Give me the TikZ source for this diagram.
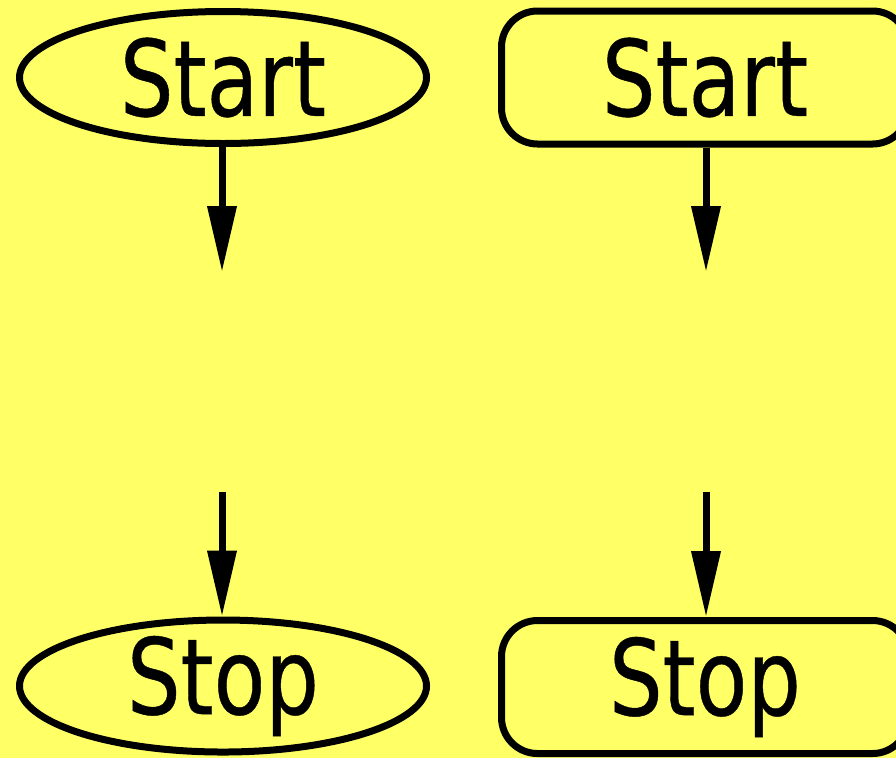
\documentclass[tikz,border=0pt]{standalone}
\usepackage{fontspec}
\newfontfamily\flowfont[FakeStretch=0.8,FakeBold=0.4]{DejaVu Sans}
\usetikzlibrary{shapes.geometric}
\usetikzlibrary{arrows.meta}
\definecolor{chartyellow}{HTML}{FFFF66}
\tikzset{
  terminal/.style={ellipse, draw=black, line width=0.07cm, fill=chartyellow,
    minimum width=4.07cm, minimum height=1.32cm, inner xsep=0pt, inner ysep=-0.12cm,
    font=\flowfont\fontsize{30}{33}\selectfont},
  terminalbox/.style={rectangle, rounded corners=0.36cm, draw=black, line width=0.07cm,
    fill=chartyellow, minimum width=4.07cm, minimum height=1.33cm, inner sep=0pt,
    font=\flowfont\fontsize{30}{33}\selectfont},
  flow/.style={-{Triangle[length=0.66cm,width=0.28cm]}, line width=0.07cm}
}

\begin{document}
\begin{tikzpicture}

	  \fill [chartyellow] (0,0) rectangle (8.96,7.58);
	  \useasboundingbox (0,0) rectangle (8.96,7.58);

	  %----------------------------------------------------------------
	  % ellipse terminals
	  \node [terminal] (startL) at (2.23,6.805) {Start};
	  \node [terminal] (stopL) at (2.23,0.72) {Stop};

	  \coordinate (gapL1) at (2.22,4.86);
	  \coordinate (gapL2) at (2.22,2.66);

	  \draw [flow] (startL.south -| gapL1) -- (gapL1);
	  \draw [flow] (gapL2) -- (gapL2 |- stopL.north);

	  %----------------------------------------------------------------
	  % rounded box terminals
	  \node [terminalbox] (startR) at (7.05,6.805) {Start};
	  \node [terminalbox] (stopR) at (7.05,0.71) {Stop};

	  \coordinate (gapR1) at (7.06,4.86);
	  \coordinate (gapR2) at (7.06,2.66);

	  \draw [flow] (startR.south -| gapR1) -- (gapR1);
	  \draw [flow] (gapR2) -- (gapR2 |- stopR.north);

\end{tikzpicture}
\end{document}
